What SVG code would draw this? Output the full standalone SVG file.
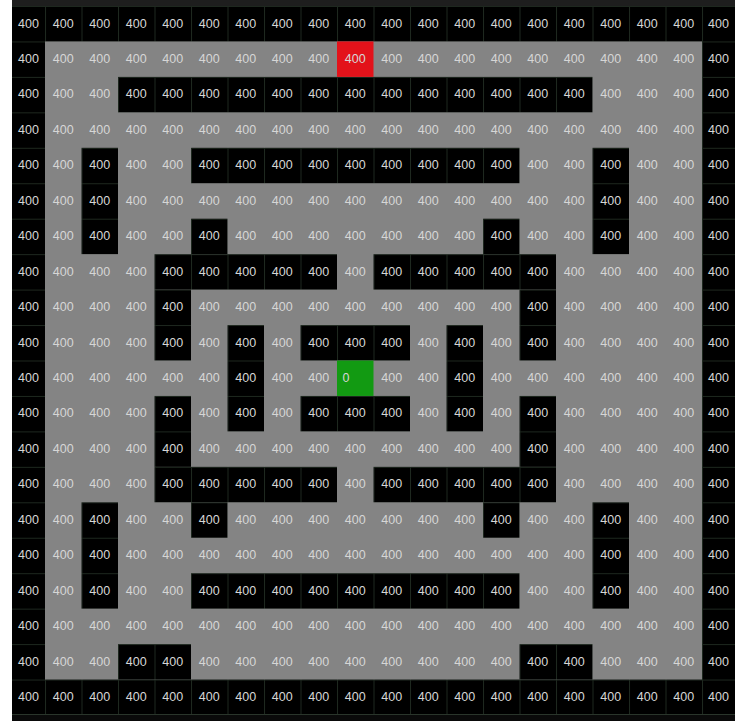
<svg xmlns="http://www.w3.org/2000/svg" width="735" height="721" viewBox="0 0 735 721">
<style>
.t{font-family:"Liberation Sans",Arial,sans-serif;font-size:12.5px;fill:#d6d6d6;text-anchor:middle}
.w{fill:url(#grid)}
</style>
<defs>
<pattern id="grid" x="8.5" y="6" width="36.5" height="35.45" patternUnits="userSpaceOnUse">
<rect width="36.5" height="35.45" fill="#000"/>
<path d="M0.5 0V35.45M0 0.5H36.5" stroke="#1e281f" stroke-width="1" fill="none"/>
</pattern>
</defs>
<rect x="0" y="0" width="735" height="721" fill="#fff"/>
<rect x="12" y="0" width="723" height="721" fill="#0a0a0a"/>
<rect x="12" y="0" width="723" height="6" fill="#1e1e1e"/>
<rect x="12" y="6" width="723" height="709" class="w"/>
<rect x="12" y="714" width="723" height="1" fill="#2a352b"/>
<g id="floor">
<rect x="45" y="41.45" width="657" height="638.1" fill="#848484"/>
</g>
<g id="walls">
<rect class="w" x="118" y="76.9" width="474.5" height="35.45"/>
<rect class="w" x="81.5" y="147.8" width="36.5" height="106.35"/>
<rect class="w" x="592.5" y="147.8" width="36.5" height="106.35"/>
<rect class="w" x="191" y="147.8" width="328.5" height="35.45"/>
<rect class="w" x="191" y="218.7" width="36.5" height="35.45"/>
<rect class="w" x="483" y="218.7" width="36.5" height="35.45"/>
<rect class="w" x="154.5" y="254.15" width="182.5" height="35.45"/>
<rect class="w" x="373.5" y="254.15" width="182.5" height="35.45"/>
<rect class="w" x="154.5" y="289.6" width="36.5" height="70.9"/>
<rect class="w" x="519.5" y="289.6" width="36.5" height="70.9"/>
<rect class="w" x="154.5" y="395.95" width="36.5" height="70.9"/>
<rect class="w" x="519.5" y="395.95" width="36.5" height="70.9"/>
<rect class="w" x="227.5" y="325.05" width="36.5" height="106.35"/>
<rect class="w" x="446.5" y="325.05" width="36.5" height="106.35"/>
<rect class="w" x="300.5" y="325.05" width="109.5" height="35.45"/>
<rect class="w" x="300.5" y="395.95" width="109.5" height="35.45"/>
<rect class="w" x="154.5" y="466.85" width="182.5" height="35.45"/>
<rect class="w" x="373.5" y="466.85" width="182.5" height="35.45"/>
<rect class="w" x="191" y="502.3" width="36.5" height="35.45"/>
<rect class="w" x="483" y="502.3" width="36.5" height="35.45"/>
<rect class="w" x="81.5" y="502.3" width="36.5" height="106.35"/>
<rect class="w" x="592.5" y="502.3" width="36.5" height="106.35"/>
<rect class="w" x="191" y="573.2" width="328.5" height="35.45"/>
<rect class="w" x="118" y="644.1" width="73" height="35.45"/>
<rect class="w" x="519.5" y="644.1" width="73" height="35.45"/>
</g>
<g id="start">
<rect x="337" y="41.45" width="36.5" height="35.45" fill="#e3121a"/>
</g>
<g id="goal">
<rect x="337" y="360.5" width="36.5" height="35.45" fill="#129a12"/>
</g>
<g id="labels">
<text class="t" y="27.5"><tspan x="28.5">400</tspan><tspan x="63.25">400</tspan><tspan x="99.75">400</tspan><tspan x="136.25">400</tspan><tspan x="172.75">400</tspan><tspan x="209.25">400</tspan><tspan x="245.75">400</tspan><tspan x="282.25">400</tspan><tspan x="318.75">400</tspan><tspan x="355.25">400</tspan><tspan x="391.75">400</tspan><tspan x="428.25">400</tspan><tspan x="464.75">400</tspan><tspan x="501.25">400</tspan><tspan x="537.75">400</tspan><tspan x="574.25">400</tspan><tspan x="610.75">400</tspan><tspan x="647.25">400</tspan><tspan x="683.75">400</tspan><tspan x="718.5">400</tspan></text>
<text class="t" y="62.95"><tspan x="28.5">400</tspan><tspan x="63.25">400</tspan><tspan x="99.75">400</tspan><tspan x="136.25">400</tspan><tspan x="172.75">400</tspan><tspan x="209.25">400</tspan><tspan x="245.75">400</tspan><tspan x="282.25">400</tspan><tspan x="318.75">400</tspan><tspan x="355.25">400</tspan><tspan x="391.75">400</tspan><tspan x="428.25">400</tspan><tspan x="464.75">400</tspan><tspan x="501.25">400</tspan><tspan x="537.75">400</tspan><tspan x="574.25">400</tspan><tspan x="610.75">400</tspan><tspan x="647.25">400</tspan><tspan x="683.75">400</tspan><tspan x="718.5">400</tspan></text>
<text class="t" y="98.4"><tspan x="28.5">400</tspan><tspan x="63.25">400</tspan><tspan x="99.75">400</tspan><tspan x="136.25">400</tspan><tspan x="172.75">400</tspan><tspan x="209.25">400</tspan><tspan x="245.75">400</tspan><tspan x="282.25">400</tspan><tspan x="318.75">400</tspan><tspan x="355.25">400</tspan><tspan x="391.75">400</tspan><tspan x="428.25">400</tspan><tspan x="464.75">400</tspan><tspan x="501.25">400</tspan><tspan x="537.75">400</tspan><tspan x="574.25">400</tspan><tspan x="610.75">400</tspan><tspan x="647.25">400</tspan><tspan x="683.75">400</tspan><tspan x="718.5">400</tspan></text>
<text class="t" y="133.85"><tspan x="28.5">400</tspan><tspan x="63.25">400</tspan><tspan x="99.75">400</tspan><tspan x="136.25">400</tspan><tspan x="172.75">400</tspan><tspan x="209.25">400</tspan><tspan x="245.75">400</tspan><tspan x="282.25">400</tspan><tspan x="318.75">400</tspan><tspan x="355.25">400</tspan><tspan x="391.75">400</tspan><tspan x="428.25">400</tspan><tspan x="464.75">400</tspan><tspan x="501.25">400</tspan><tspan x="537.75">400</tspan><tspan x="574.25">400</tspan><tspan x="610.75">400</tspan><tspan x="647.25">400</tspan><tspan x="683.75">400</tspan><tspan x="718.5">400</tspan></text>
<text class="t" y="169.3"><tspan x="28.5">400</tspan><tspan x="63.25">400</tspan><tspan x="99.75">400</tspan><tspan x="136.25">400</tspan><tspan x="172.75">400</tspan><tspan x="209.25">400</tspan><tspan x="245.75">400</tspan><tspan x="282.25">400</tspan><tspan x="318.75">400</tspan><tspan x="355.25">400</tspan><tspan x="391.75">400</tspan><tspan x="428.25">400</tspan><tspan x="464.75">400</tspan><tspan x="501.25">400</tspan><tspan x="537.75">400</tspan><tspan x="574.25">400</tspan><tspan x="610.75">400</tspan><tspan x="647.25">400</tspan><tspan x="683.75">400</tspan><tspan x="718.5">400</tspan></text>
<text class="t" y="204.75"><tspan x="28.5">400</tspan><tspan x="63.25">400</tspan><tspan x="99.75">400</tspan><tspan x="136.25">400</tspan><tspan x="172.75">400</tspan><tspan x="209.25">400</tspan><tspan x="245.75">400</tspan><tspan x="282.25">400</tspan><tspan x="318.75">400</tspan><tspan x="355.25">400</tspan><tspan x="391.75">400</tspan><tspan x="428.25">400</tspan><tspan x="464.75">400</tspan><tspan x="501.25">400</tspan><tspan x="537.75">400</tspan><tspan x="574.25">400</tspan><tspan x="610.75">400</tspan><tspan x="647.25">400</tspan><tspan x="683.75">400</tspan><tspan x="718.5">400</tspan></text>
<text class="t" y="240.2"><tspan x="28.5">400</tspan><tspan x="63.25">400</tspan><tspan x="99.75">400</tspan><tspan x="136.25">400</tspan><tspan x="172.75">400</tspan><tspan x="209.25">400</tspan><tspan x="245.75">400</tspan><tspan x="282.25">400</tspan><tspan x="318.75">400</tspan><tspan x="355.25">400</tspan><tspan x="391.75">400</tspan><tspan x="428.25">400</tspan><tspan x="464.75">400</tspan><tspan x="501.25">400</tspan><tspan x="537.75">400</tspan><tspan x="574.25">400</tspan><tspan x="610.75">400</tspan><tspan x="647.25">400</tspan><tspan x="683.75">400</tspan><tspan x="718.5">400</tspan></text>
<text class="t" y="275.65"><tspan x="28.5">400</tspan><tspan x="63.25">400</tspan><tspan x="99.75">400</tspan><tspan x="136.25">400</tspan><tspan x="172.75">400</tspan><tspan x="209.25">400</tspan><tspan x="245.75">400</tspan><tspan x="282.25">400</tspan><tspan x="318.75">400</tspan><tspan x="355.25">400</tspan><tspan x="391.75">400</tspan><tspan x="428.25">400</tspan><tspan x="464.75">400</tspan><tspan x="501.25">400</tspan><tspan x="537.75">400</tspan><tspan x="574.25">400</tspan><tspan x="610.75">400</tspan><tspan x="647.25">400</tspan><tspan x="683.75">400</tspan><tspan x="718.5">400</tspan></text>
<text class="t" y="311.1"><tspan x="28.5">400</tspan><tspan x="63.25">400</tspan><tspan x="99.75">400</tspan><tspan x="136.25">400</tspan><tspan x="172.75">400</tspan><tspan x="209.25">400</tspan><tspan x="245.75">400</tspan><tspan x="282.25">400</tspan><tspan x="318.75">400</tspan><tspan x="355.25">400</tspan><tspan x="391.75">400</tspan><tspan x="428.25">400</tspan><tspan x="464.75">400</tspan><tspan x="501.25">400</tspan><tspan x="537.75">400</tspan><tspan x="574.25">400</tspan><tspan x="610.75">400</tspan><tspan x="647.25">400</tspan><tspan x="683.75">400</tspan><tspan x="718.5">400</tspan></text>
<text class="t" y="346.55"><tspan x="28.5">400</tspan><tspan x="63.25">400</tspan><tspan x="99.75">400</tspan><tspan x="136.25">400</tspan><tspan x="172.75">400</tspan><tspan x="209.25">400</tspan><tspan x="245.75">400</tspan><tspan x="282.25">400</tspan><tspan x="318.75">400</tspan><tspan x="355.25">400</tspan><tspan x="391.75">400</tspan><tspan x="428.25">400</tspan><tspan x="464.75">400</tspan><tspan x="501.25">400</tspan><tspan x="537.75">400</tspan><tspan x="574.25">400</tspan><tspan x="610.75">400</tspan><tspan x="647.25">400</tspan><tspan x="683.75">400</tspan><tspan x="718.5">400</tspan></text>
<text class="t" y="382"><tspan x="28.5">400</tspan><tspan x="63.25">400</tspan><tspan x="99.75">400</tspan><tspan x="136.25">400</tspan><tspan x="172.75">400</tspan><tspan x="209.25">400</tspan><tspan x="245.75">400</tspan><tspan x="282.25">400</tspan><tspan x="318.75">400</tspan><tspan x="346">0</tspan><tspan x="391.75">400</tspan><tspan x="428.25">400</tspan><tspan x="464.75">400</tspan><tspan x="501.25">400</tspan><tspan x="537.75">400</tspan><tspan x="574.25">400</tspan><tspan x="610.75">400</tspan><tspan x="647.25">400</tspan><tspan x="683.75">400</tspan><tspan x="718.5">400</tspan></text>
<text class="t" y="417.45"><tspan x="28.5">400</tspan><tspan x="63.25">400</tspan><tspan x="99.75">400</tspan><tspan x="136.25">400</tspan><tspan x="172.75">400</tspan><tspan x="209.25">400</tspan><tspan x="245.75">400</tspan><tspan x="282.25">400</tspan><tspan x="318.75">400</tspan><tspan x="355.25">400</tspan><tspan x="391.75">400</tspan><tspan x="428.25">400</tspan><tspan x="464.75">400</tspan><tspan x="501.25">400</tspan><tspan x="537.75">400</tspan><tspan x="574.25">400</tspan><tspan x="610.75">400</tspan><tspan x="647.25">400</tspan><tspan x="683.75">400</tspan><tspan x="718.5">400</tspan></text>
<text class="t" y="452.9"><tspan x="28.5">400</tspan><tspan x="63.25">400</tspan><tspan x="99.75">400</tspan><tspan x="136.25">400</tspan><tspan x="172.75">400</tspan><tspan x="209.25">400</tspan><tspan x="245.75">400</tspan><tspan x="282.25">400</tspan><tspan x="318.75">400</tspan><tspan x="355.25">400</tspan><tspan x="391.75">400</tspan><tspan x="428.25">400</tspan><tspan x="464.75">400</tspan><tspan x="501.25">400</tspan><tspan x="537.75">400</tspan><tspan x="574.25">400</tspan><tspan x="610.75">400</tspan><tspan x="647.25">400</tspan><tspan x="683.75">400</tspan><tspan x="718.5">400</tspan></text>
<text class="t" y="488.35"><tspan x="28.5">400</tspan><tspan x="63.25">400</tspan><tspan x="99.75">400</tspan><tspan x="136.25">400</tspan><tspan x="172.75">400</tspan><tspan x="209.25">400</tspan><tspan x="245.75">400</tspan><tspan x="282.25">400</tspan><tspan x="318.75">400</tspan><tspan x="355.25">400</tspan><tspan x="391.75">400</tspan><tspan x="428.25">400</tspan><tspan x="464.75">400</tspan><tspan x="501.25">400</tspan><tspan x="537.75">400</tspan><tspan x="574.25">400</tspan><tspan x="610.75">400</tspan><tspan x="647.25">400</tspan><tspan x="683.75">400</tspan><tspan x="718.5">400</tspan></text>
<text class="t" y="523.8"><tspan x="28.5">400</tspan><tspan x="63.25">400</tspan><tspan x="99.75">400</tspan><tspan x="136.25">400</tspan><tspan x="172.75">400</tspan><tspan x="209.25">400</tspan><tspan x="245.75">400</tspan><tspan x="282.25">400</tspan><tspan x="318.75">400</tspan><tspan x="355.25">400</tspan><tspan x="391.75">400</tspan><tspan x="428.25">400</tspan><tspan x="464.75">400</tspan><tspan x="501.25">400</tspan><tspan x="537.75">400</tspan><tspan x="574.25">400</tspan><tspan x="610.75">400</tspan><tspan x="647.25">400</tspan><tspan x="683.75">400</tspan><tspan x="718.5">400</tspan></text>
<text class="t" y="559.25"><tspan x="28.5">400</tspan><tspan x="63.25">400</tspan><tspan x="99.75">400</tspan><tspan x="136.25">400</tspan><tspan x="172.75">400</tspan><tspan x="209.25">400</tspan><tspan x="245.75">400</tspan><tspan x="282.25">400</tspan><tspan x="318.75">400</tspan><tspan x="355.25">400</tspan><tspan x="391.75">400</tspan><tspan x="428.25">400</tspan><tspan x="464.75">400</tspan><tspan x="501.25">400</tspan><tspan x="537.75">400</tspan><tspan x="574.25">400</tspan><tspan x="610.75">400</tspan><tspan x="647.25">400</tspan><tspan x="683.75">400</tspan><tspan x="718.5">400</tspan></text>
<text class="t" y="594.7"><tspan x="28.5">400</tspan><tspan x="63.25">400</tspan><tspan x="99.75">400</tspan><tspan x="136.25">400</tspan><tspan x="172.75">400</tspan><tspan x="209.25">400</tspan><tspan x="245.75">400</tspan><tspan x="282.25">400</tspan><tspan x="318.75">400</tspan><tspan x="355.25">400</tspan><tspan x="391.75">400</tspan><tspan x="428.25">400</tspan><tspan x="464.75">400</tspan><tspan x="501.25">400</tspan><tspan x="537.75">400</tspan><tspan x="574.25">400</tspan><tspan x="610.75">400</tspan><tspan x="647.25">400</tspan><tspan x="683.75">400</tspan><tspan x="718.5">400</tspan></text>
<text class="t" y="630.15"><tspan x="28.5">400</tspan><tspan x="63.25">400</tspan><tspan x="99.75">400</tspan><tspan x="136.25">400</tspan><tspan x="172.75">400</tspan><tspan x="209.25">400</tspan><tspan x="245.75">400</tspan><tspan x="282.25">400</tspan><tspan x="318.75">400</tspan><tspan x="355.25">400</tspan><tspan x="391.75">400</tspan><tspan x="428.25">400</tspan><tspan x="464.75">400</tspan><tspan x="501.25">400</tspan><tspan x="537.75">400</tspan><tspan x="574.25">400</tspan><tspan x="610.75">400</tspan><tspan x="647.25">400</tspan><tspan x="683.75">400</tspan><tspan x="718.5">400</tspan></text>
<text class="t" y="665.6"><tspan x="28.5">400</tspan><tspan x="63.25">400</tspan><tspan x="99.75">400</tspan><tspan x="136.25">400</tspan><tspan x="172.75">400</tspan><tspan x="209.25">400</tspan><tspan x="245.75">400</tspan><tspan x="282.25">400</tspan><tspan x="318.75">400</tspan><tspan x="355.25">400</tspan><tspan x="391.75">400</tspan><tspan x="428.25">400</tspan><tspan x="464.75">400</tspan><tspan x="501.25">400</tspan><tspan x="537.75">400</tspan><tspan x="574.25">400</tspan><tspan x="610.75">400</tspan><tspan x="647.25">400</tspan><tspan x="683.75">400</tspan><tspan x="718.5">400</tspan></text>
<text class="t" y="701.05"><tspan x="28.5">400</tspan><tspan x="63.25">400</tspan><tspan x="99.75">400</tspan><tspan x="136.25">400</tspan><tspan x="172.75">400</tspan><tspan x="209.25">400</tspan><tspan x="245.75">400</tspan><tspan x="282.25">400</tspan><tspan x="318.75">400</tspan><tspan x="355.25">400</tspan><tspan x="391.75">400</tspan><tspan x="428.25">400</tspan><tspan x="464.75">400</tspan><tspan x="501.25">400</tspan><tspan x="537.75">400</tspan><tspan x="574.25">400</tspan><tspan x="610.75">400</tspan><tspan x="647.25">400</tspan><tspan x="683.75">400</tspan><tspan x="718.5">400</tspan></text>
</g>
</svg>
